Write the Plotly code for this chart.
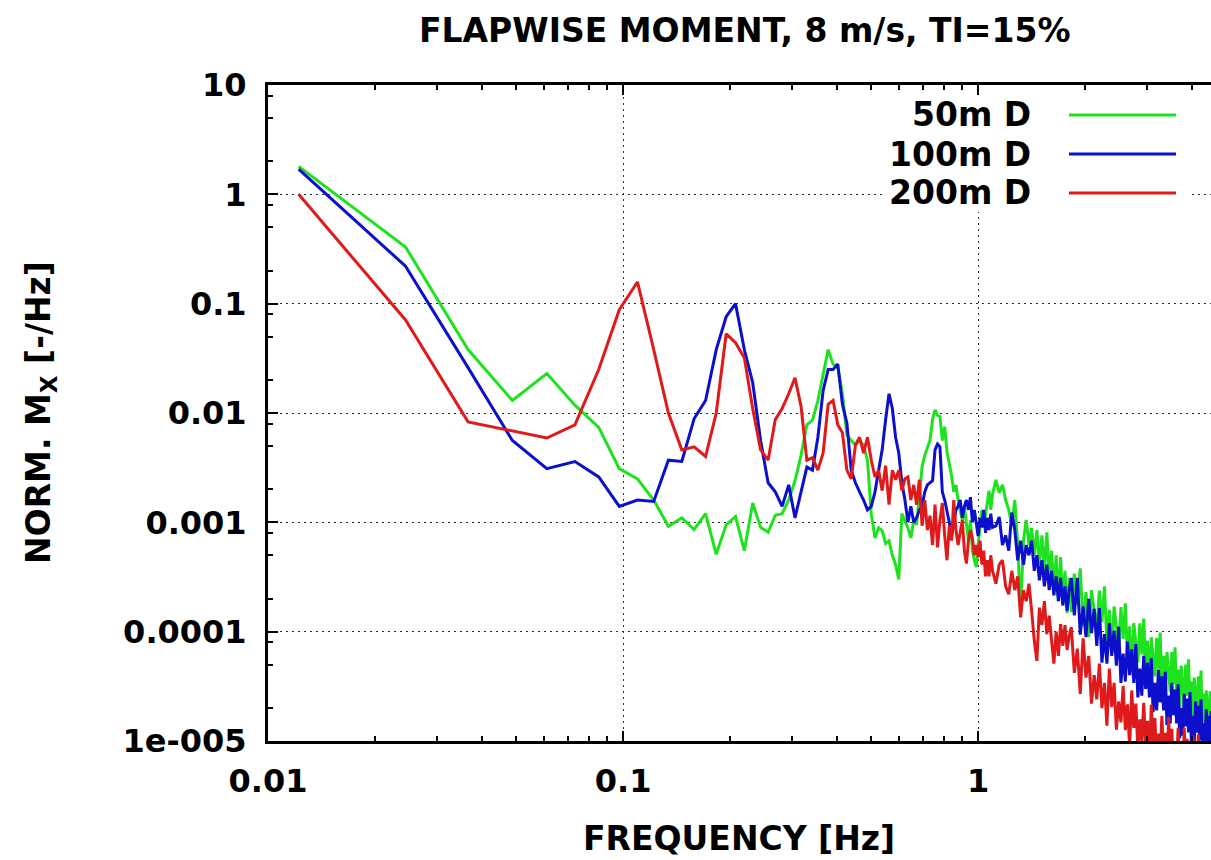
import plotly.graph_objects as go

# ---------------- data ----------------
DF_HZ = 0.0122  # spectral resolution of the FFT bins
BIN_INDEX = list(range(1, 91)) + list(range(92, 150, 2)) + list(range(150, 373, 3))
FREQ_HZ = [round(DF_HZ * k, 4) for k in BIN_INDEX]

SERIES_NAMES = ["50m D", "100m D", "200m D"]

PSD_50M_D = [
    1.8, 0.33, 0.038, 0.013, 0.023, 0.0118, 0.0074, 0.0031, 0.0025, 0.0016,
    0.00092, 0.0011, 0.00086, 0.0012, 0.00051, 0.00095, 0.00113, 0.00055, 0.0015, 0.0009,
    0.00081, 0.00116, 0.0012, 0.0016, 0.0024, 0.0041, 0.0078, 0.0086, 0.013, 0.022,
    0.038, 0.028, 0.026, 0.015, 0.0063, 0.0056, 0.0051, 0.0056, 0.0051, 0.0037,
    0.0012, 0.00072, 0.00089, 0.00084, 0.00064, 0.00068, 0.0005, 0.00041, 0.0003, 0.0012,
    0.00105, 0.00089, 0.00072, 0.00105, 0.00095, 0.0019, 0.0032, 0.0041, 0.0049, 0.0056,
    0.0087, 0.0107, 0.0095, 0.0093, 0.0056, 0.0075, 0.0044, 0.0035, 0.0027, 0.0019,
    0.0022, 0.00158, 0.0013, 0.00105, 0.0014, 0.00095, 0.00068, 0.00105, 0.00055, 0.00045,
    0.00039, 0.00063, 0.00089, 0.0013, 0.00089, 0.00115, 0.0014, 0.00195, 0.0013, 0.0018,
    2.45e-3, 1.86e-3, 2.2e-3, 1.6e-3, 1.3e-3, 9.3e-4, 1.6e-3, 6.2e-4, 1.48e-4, 6.8e-4,
    1.05e-3, 6.2e-4, 8.9e-4, 5.0e-4, 8.5e-4, 4.1e-4, 7.6e-4, 3.6e-4, 8.1e-4, 3.2e-4,
    5.5e-4, 2.4e-4, 5.0e-4, 1.9e-4, 4.8e-4, 1.74e-4, 3.6e-4, 1.48e-4, 3.1e-4,
    1.51e-4, 3.4e-4, 1.76e-4, 3.8e-4, 1.12e-4, 2.3e-4, 8.9e-5, 2.4e-4, 1.55e-4, 1.05e-4,
    2.37e-4, 1.22e-4, 2.6e-4, 7.8e-5, 1.58e-4, 6.2e-5, 1.7e-4, 1.07e-4, 7.2e-5, 1.68e-4,
    8.6e-5, 1.82e-4, 5.4e-5, 1.12e-4, 4.4e-5, 1.2e-4, 7.6e-5, 5.2e-5, 1.19e-4, 6.2e-5,
    1.32e-4, 4.0e-5, 8.3e-5, 3.2e-5, 8.9e-5, 5.6e-5, 3.9e-5, 8.8e-5, 4.6e-5, 9.8e-5,
    2.95e-5, 6.0e-5, 2.4e-5, 6.5e-5, 4.2e-5, 2.8e-5, 6.5e-5, 3.35e-5, 7.2e-5, 2.14e-5,
    4.5e-5, 1.78e-5, 4.9e-5, 3.2e-5, 2.14e-5, 5.0e-5, 2.6e-5, 5.6e-5, 1.7e-5, 3.5e-5,
    1.41e-5, 3.8e-5, 2.45e-5, 1.7e-5, 3.9e-5, 2.0e-5, 4.4e-5, 1.29e-5, 2.7e-5, 1.05e-5,
    2.9e-5, 1.82e-5, 1.23e-5, 2.85e-5, 1.46e-5,
]

PSD_100M_D = [
    1.7, 0.22, 0.026, 0.0056, 0.0031, 0.0036, 0.0026, 0.0014, 0.0016, 0.00155,
    0.0037, 0.0036, 0.0089, 0.013, 0.038, 0.076, 0.10, 0.038, 0.019, 0.0056,
    0.0023, 0.0019, 0.0014, 0.0022, 0.0011, 0.0019, 0.0032, 0.003, 0.006, 0.016,
    0.025, 0.025, 0.028, 0.012, 0.0081, 0.003, 0.0023, 0.0019, 0.0016, 0.0013,
    0.0014, 0.0019, 0.003, 0.0046, 0.0087, 0.015, 0.011, 0.006, 0.0043, 0.0023,
    0.0016, 0.001, 0.0014, 0.001, 0.0011, 0.0013, 0.0014, 0.0019, 0.0022, 0.0023,
    0.0024, 0.0046, 0.0052, 0.0049, 0.0019, 0.0016, 0.0013, 0.001, 0.00073, 0.00095,
    0.0013, 0.0014, 0.0016, 0.0011, 0.0014, 0.0016, 0.0013, 0.0017, 0.001, 0.0013,
    0.001, 0.00075, 0.0011, 0.0009, 0.0013, 0.0008, 0.0011, 0.00085, 0.0012, 0.0009,
    9.3e-4, 1.12e-3, 6.2e-4, 7.6e-4, 5.5e-4, 1.23e-3, 8.5e-4, 4.5e-4, 6.8e-4, 4.1e-4,
    6.2e-4, 5.0e-4, 6.8e-4, 3.6e-4, 5.0e-4, 2.95e-4, 4.5e-4, 2.6e-4, 4.1e-4, 2.4e-4,
    3.6e-4, 2.15e-4, 3.2e-4, 1.9e-4, 3.1e-4, 1.74e-4, 2.6e-4, 1.55e-4, 2.4e-4,
    3.1e-4, 1.41e-4, 3.1e-4, 9.4e-5, 1.7e-4, 8.9e-5, 2.0e-4, 9.7e-5, 1.62e-4, 7.4e-5,
    1.64e-4, 5.2e-5, 9.5e-5, 5.1e-5, 1.2e-4, 6.0e-5, 1.02e-4, 4.9e-5, 1.11e-4, 3.4e-5,
    6.3e-5, 3.5e-5, 8.1e-5, 4.0e-5, 6.9e-5, 3.4e-5, 7.7e-5, 2.5e-5, 4.6e-5, 2.6e-5,
    6.0e-5, 3.0e-5, 5.2e-5, 2.5e-5, 5.7e-5, 1.84e-5, 3.4e-5, 1.9e-5, 4.5e-5, 2.26e-5,
    3.9e-5, 1.9e-5, 4.3e-5, 1.4e-5, 2.6e-5, 1.45e-5, 3.4e-5, 1.72e-5, 2.95e-5, 1.45e-5,
    3.3e-5, 1.06e-5, 2.0e-5, 1.12e-5, 2.7e-5, 1.36e-5, 2.45e-5, 1.2e-5, 2.8e-5, 9.0e-6,
    1.7e-5, 9.5e-6, 2.3e-5, 1.19e-5, 2.1e-5, 1.02e-5, 2.4e-5, 7.7e-6, 1.45e-5, 8.1e-6,
    1.95e-5, 9.7e-6, 1.7e-5, 8.3e-6, 1.88e-5,
]

PSD_200M_D = [
    1.0, 0.071, 0.0083, 0.0068, 0.0059, 0.0078, 0.025, 0.088, 0.158, 0.038,
    0.010, 0.0046, 0.0049, 0.0040, 0.010, 0.053, 0.044, 0.032, 0.011, 0.0046,
    0.0037, 0.0087, 0.011, 0.015, 0.021, 0.0115, 0.0037, 0.0039, 0.003, 0.0043,
    0.012, 0.013, 0.0078, 0.0066, 0.003, 0.0025, 0.0051, 0.006, 0.0043, 0.006,
    0.0037, 0.0026, 3.0e-3, 1.95e-3, 3.3e-3, 1.45e-3, 3.0e-3, 2.45e-3, 3.0e-3, 1.95e-3,
    2.5e-3, 2.6e-3, 1.6e-3, 2.2e-3, 1.45e-3, 2.45e-3, 9.3e-4, 1.6e-3, 8.5e-4, 1.15e-3,
    6.2e-4, 1.45e-3, 5.9e-4, 1.05e-3, 1.5e-3, 7.6e-4, 4.5e-4, 9.3e-4, 6.8e-4, 1.6e-3,
    8.5e-4, 6.2e-4, 7.9e-4, 1.05e-3, 5.5e-4, 4.2e-4, 6.8e-4, 8.5e-4, 7.2e-4, 5.0e-4,
    6.2e-4, 4.8e-4, 6.8e-4, 4.1e-4, 5.5e-4, 3.2e-4, 4.5e-4, 3.2e-4, 5.0e-4, 3.6e-4,
    2.75e-4, 4.1e-4, 4.5e-4, 2.6e-4, 2.2e-4, 3.6e-4, 2.4e-4, 3.2e-4, 1.35e-4, 2.4e-4,
    1.9e-4, 2.75e-4, 1.55e-4, 8.3e-5, 5.4e-5, 1.66e-4, 1.15e-4, 1.9e-4, 9.5e-5, 1.4e-4,
    8.3e-5, 5.1e-5, 1.0e-4, 6.0e-5, 1.17e-4, 7.4e-5, 1.15e-4, 6.8e-5, 9.1e-5,
    1.1e-4, 4.2e-5, 7.0e-5, 2.7e-5, 8.7e-5, 3.8e-5, 6.0e-5, 2.2e-5, 4.0e-5, 2.4e-5,
    5.1e-5, 2.0e-5, 3.4e-5, 1.38e-5, 4.6e-5, 2.04e-5, 3.4e-5, 1.27e-5, 2.3e-5, 1.48e-5,
    3.2e-5, 1.26e-5, 2.16e-5, 8.7e-6, 2.9e-5, 1.32e-5, 2.2e-5, 8.4e-6, 1.58e-5, 1.0e-5,
    2.24e-5, 8.9e-6, 1.53e-5, 6.3e-6, 2.14e-5, 9.5e-6, 1.62e-5, 6.2e-6, 1.17e-5, 7.6e-6,
    1.7e-5, 6.8e-6, 1.19e-5, 4.9e-6, 1.66e-5, 7.6e-6, 1.29e-5, 4.8e-6, 9.1e-6, 5.9e-6,
    1.32e-5, 5.2e-6, 9.4e-6, 3.9e-6, 1.32e-5, 6.2e-6, 1.05e-5, 4.0e-6, 7.8e-6, 5.0e-6,
    1.12e-5, 4.6e-6, 8.0e-6, 3.3e-6, 1.15e-5, 5.2e-6, 8.9e-6, 3.4e-6, 6.5e-6, 4.2e-6,
    9.3e-6, 3.7e-6, 6.5e-6, 2.7e-6, 9.1e-6,
]

X_TICK_VALUES = [0.01, 0.1, 1]
X_TICK_LABELS = ["0.01", "0.1", "1"]
X_MINOR_TICKS = [0.02, 0.03, 0.04, 0.05, 0.06, 0.07, 0.08, 0.09,
                 0.2, 0.3, 0.4, 0.5, 0.6, 0.7, 0.8, 0.9, 2, 3, 4]
Y_TICK_VALUES = [1e-5, 1e-4, 1e-3, 1e-2, 1e-1, 1, 10]
Y_TICK_LABELS = ["1e-005", "0.0001", "0.001", "0.01", "0.1", "1", "10"]
Y_MINOR_TICKS = [m * 10.0 ** e for e in range(-5, 1) for m in (2, 5, 8)]

TITLE = "FLAPWISE MOMENT, 8 m/s, TI=15%"
X_TITLE = "FREQUENCY [Hz]"
Y_TITLE = "NORM. M<sub>X</sub> [-/Hz]"

# ---------------- styling ----------------
COLORS = ["#1fe21f", "#0c10cc", "#e01a1a"]
FONT = dict(family="DejaVu Sans", size=33, color="black", weight="bold")
TICKFONT = dict(family="DejaVu Sans", size=32, color="black", weight="bold")

fig = go.Figure()
for name, vals, color in zip(SERIES_NAMES, [PSD_50M_D, PSD_100M_D, PSD_200M_D], COLORS):
    fig.add_trace(go.Scatter(x=FREQ_HZ, y=vals, mode="lines", name=name,
                             line=dict(color=color, width=3), showlegend=False))

common_axis = dict(
    type="log", ticks="inside", ticklen=10, tickwidth=2, tickcolor="black",
    showline=True, linewidth=3, linecolor="black",
    showgrid=True, gridcolor="#2a2a2a", gridwidth=1.3, griddash="2px,4px",
    zeroline=False, automargin=False, tickfont=TICKFONT,
)

fig.update_layout(
    width=1211, height=860,
    margin=dict(l=268, r=0, t=85, b=119),
    paper_bgcolor="white", plot_bgcolor="white",
    showlegend=False,
    xaxis=dict(range=[-2, 0.656], tickmode="array", tickvals=X_TICK_VALUES,
               ticktext=X_TICK_LABELS, mirror="ticks", ticklabelstandoff=10,
               minor=dict(tickmode="array", tickvals=X_MINOR_TICKS, ticks="inside",
                          ticklen=5, tickwidth=2, tickcolor="black", showgrid=False),
               **common_axis),
    yaxis=dict(range=[-5, 1], tickmode="array", tickvals=Y_TICK_VALUES,
               ticktext=Y_TICK_LABELS, mirror=False, ticklabelstandoff=12,
               minor=dict(tickmode="array", tickvals=Y_MINOR_TICKS, ticks="inside",
                          ticklen=5, tickwidth=2, tickcolor="black", showgrid=False),
               **common_axis),
)

annotations = [
    dict(text=TITLE, x=0.5058, y=1.0838, xref="paper", yref="paper",
         xanchor="center", yanchor="middle", showarrow=False, font=FONT),
    dict(text=X_TITLE, x=0.4995, y=-0.148, xref="paper", yref="paper",
         xanchor="center", yanchor="middle", showarrow=False, font=FONT),
    dict(text=Y_TITLE, x=-0.2418, y=0.5015, xref="paper", yref="paper",
         xanchor="center", yanchor="middle", textangle=-90, showarrow=False, font=FONT),
]

# gnuplot-style key: white box, right-aligned labels, line samples to the right
shapes = [dict(type="rect", xref="paper", yref="paper", x0=0.654, x1=0.98,
               y0=0.8064, y1=0.9832, fillcolor="white", line=dict(width=0), layer="above")]
LEGEND_ROWS = [0.9543, 0.8948, 0.8354]
for name, color, yrow in zip(SERIES_NAMES, COLORS, LEGEND_ROWS):
    shapes.append(dict(type="line", xref="paper", yref="paper", x0=0.8494, x1=0.9629,
                       y0=yrow, y1=yrow, line=dict(color=color, width=3), layer="above"))
    annotations.append(dict(text=name, x=0.8112, y=yrow, xref="paper", yref="paper",
                            xanchor="right", yanchor="middle", showarrow=False, font=FONT))

fig.update_layout(annotations=annotations, shapes=shapes)
fig.write_html(
    "out.html",
    config={"displayModeBar": False},
    post_script="document.body.style.margin='0px';document.body.style.overflow='hidden';",
)
